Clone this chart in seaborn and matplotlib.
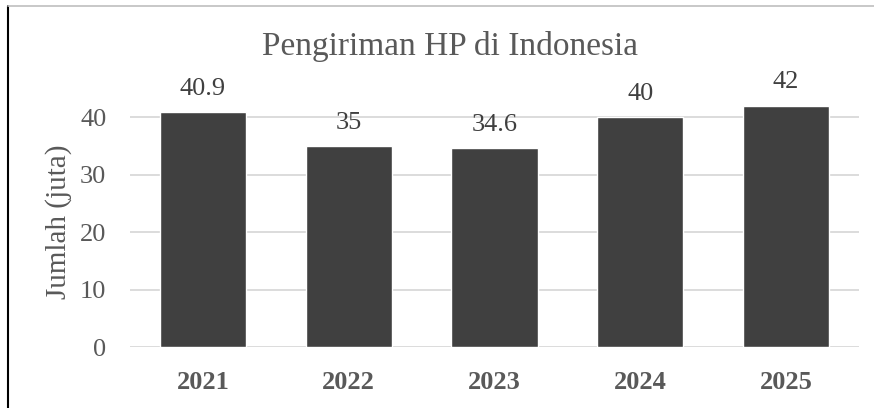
import matplotlib
matplotlib.use("Agg")
import matplotlib.pyplot as plt
import seaborn as sns
import pandas as pd
from matplotlib.lines import Line2D

years = ["2021", "2022", "2023", "2024", "2025"]
values = [40.9, 35, 34.6, 40, 42]
labels = ["40.9", "35", "34.6", "40", "42"]
yticks = [0, 10, 20, 30, 40]

sns.set_theme(style="white")
plt.rcParams['font.family'] = ['Liberation Serif', 'DejaVu Serif']

df = pd.DataFrame({"year": years, "value": values})
fig = plt.figure(figsize=(8.74, 4.08), dpi=100)
ax = fig.add_axes([130/874, 1 - 347/408, (859-130)/874, (347-60)/408])
sns.barplot(data=df, x="year", y="value", color="#404040", saturation=1,
            width=0.59, ax=ax, zorder=3)
ax.set_ylim(0, 50)
ax.set_xlim(-0.5, 4.5)
ax.set_yticks(yticks)
ax.yaxis.grid(True, color="#d9d9d9", linewidth=1.3, zorder=0)
ax.set_axisbelow(True)
for s in ax.spines.values():
    s.set_visible(False)
ax.tick_params(axis="y", length=0, labelsize=19, colors="#595959", pad=17)
ax.tick_params(axis="x", length=0, labelsize=19, colors="#595959", pad=17)
for lab in ax.get_xticklabels():
    lab.set_fontweight("bold")
ax.set_xlabel("")
ax.set_ylabel("Jumlah (juta)", fontsize=21, color="#595959")
ax.yaxis.set_label_coords(-0.08, 0.436)
for i, (v, t) in enumerate(zip(values, labels)):
    ax.annotate(t, (i, v), xytext=(0, 9), textcoords="offset points",
                ha="center", va="bottom", fontsize=19, color="#404040")
fig.text(450/874, 1 - 46/408, "Pengiriman HP di Indonesia", ha="center", va="center",
         fontsize=24, color="#595959")
fig.add_artist(Line2D([8/874, 8/874], [0, 1 - 6/408], transform=fig.transFigure,
                      color="black", linewidth=1.5))
fig.add_artist(Line2D([8/874, 1], [1 - 6/408, 1 - 6/408], transform=fig.transFigure,
                      color="#bfbfbf", linewidth=1.2))
fig.savefig("out.png", dpi=100)
